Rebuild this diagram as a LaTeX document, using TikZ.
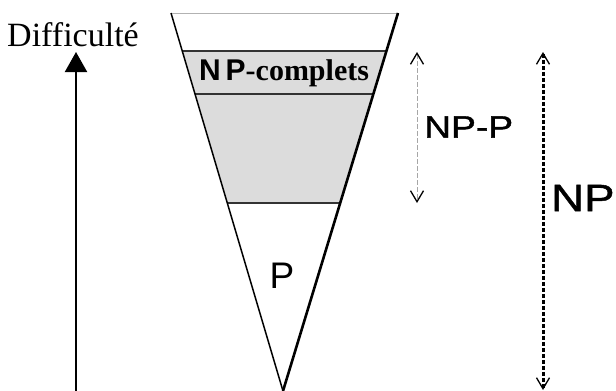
\documentclass[tikz,border=0pt]{standalone}
\usepackage{fontspec}
\setmainfont{Liberation Serif}
\setsansfont{Liberation Sans}
\newfontfamily\widesans[FakeStretch=1.2,FakeBold=1.2]{Liberation Sans}
\usetikzlibrary{arrows.meta}
\definecolor{bandgray}{HTML}{DCDCDC}
\definecolor{linegray}{HTML}{333333}
\tikzset{chev/.tip={Straight Barb[length=11pt,width=13pt,line width=1.3pt,color=black]}}
\begin{document}
\begin{tikzpicture}[x=1pt,y=-1pt,
  edge/.style={line width=1.5pt,linegray},
  lbl/.style={inner sep=0pt,font=\sffamily}]
\useasboundingbox (0,0) rectangle (616,391);
% funnel corners
\coordinate (TL) at (171,13);
\coordinate (TR) at (398,13);
\coordinate (tip) at (283,391);
\coordinate (b1l) at (182.3,51);
\coordinate (b1r) at (386.4,51);
\coordinate (b2l) at (195,94);
\coordinate (b2r) at (373.4,94);
\coordinate (b3l) at (227.3,203);
\coordinate (b3r) at (340.2,203);
% gray band
\fill[bandgray] (b1l) -- (b1r) -- (b3r) -- (b3l) -- cycle;
\draw[edge] (b1l) -- (b1r);
\draw[edge] (b2l) -- (b2r);
\draw[edge] (b3l) -- (b3r);
\draw[line width=1pt,gray!60] (TL) -- (TR);
\draw[line width=1.5pt,line join=round] (TL) -- (tip);
\draw[line width=2.6pt,line join=round] (TR) -- (tip);
% labels
\node[inner sep=0pt,font=\fontsize{34}{34}\selectfont] (diff) at (73,35) {Difficulté};
\node[inner sep=0pt] (npc) at (284,73) {\fontsize{30}{30}\selectfont\textsf{\textbf{N\,P}}\textbf{-complets}};
\node[lbl,anchor=west,font=\widesans\fontsize{31}{31}\selectfont] (npp) at (424,127) {NP-P};
\node[lbl,anchor=west,font=\widesans\fontsize{38}{38}\selectfont] (np) at (551,198) {NP};
\node[lbl,font=\sffamily\fontsize{37}{37}\selectfont] (p) at (282,276) {P};
% difficulty axis
\coordinate (ax0) at (76,391);
\coordinate (ax1) at (76,52);
\draw[line width=2pt,-{Triangle[length=20pt,width=22pt]}] (ax0) -- (ax1);
% NP-P range
\coordinate (r1a) at (417,52);
\coordinate (r1b) at (417,203);
\draw[gray!70,line width=0.8pt,dash pattern=on 5pt off 2pt,{chev}-{chev}] (r1a) -- (r1b);
% NP range
\coordinate (r2a) at (543,52);
\coordinate (r2b) at (543,390);
\draw[black,line width=3pt,dash pattern=on 4pt off 2pt,{chev}-{chev}] (r2a) -- (r2b);
\end{tikzpicture}
\end{document}
